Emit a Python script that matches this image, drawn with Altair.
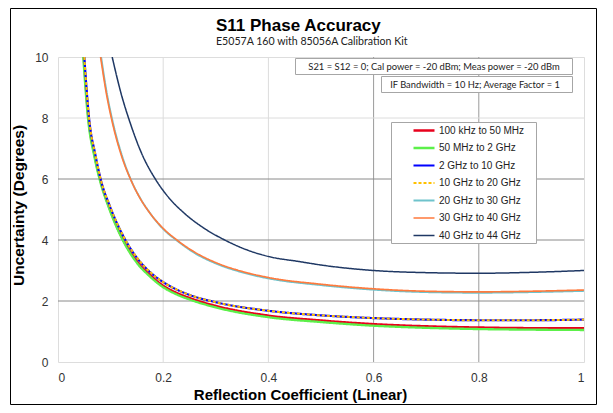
import altair as alt
import pandas as pd

# ---------------- data ----------------
title_text = "S11 Phase Accuracy"
subtitle_text = "E5057A 160 with 85056A Calibration Kit"
note1 = "S21 = S12 = 0; Cal power = -20 dBm; Meas power = -20 dBm"
note2 = "IF Bandwidth = 10 Hz; Average Factor = 1"
x_title = "Reflection Coefficient (Linear)"
y_title = "Uncertainty (Degrees)"

series = ["100 kHz to 50 MHz", "50 MHz to 2 GHz", "2 GHz to 10 GHz", "10 GHz to 20 GHz",
          "20 GHz to 30 GHz", "30 GHz to 40 GHz", "40 GHz to 44 GHz"]
colors = ["#e8001c", "#5cf04a", "#0000ff", "#ffc000", "#6fc3cc", "#ff7a3d", "#1f3864"]
widths = [2.5, 1.5, 2.5, 1.2, 2.2, 1.5, 1.5]
dashes = [[1, 0], [1, 0], [1, 0], [3, 2], [1, 0], [1, 0], [1, 0]]

red_x = [0.049, 0.058, 0.07, 0.08, 0.099, 0.124, 0.15, 0.175, 0.2, 0.225, 0.25, 0.3, 0.4, 0.5, 0.6, 0.7, 0.8, 0.9, 1.0]
red_y = [10, 8, 6.75, 6, 5.0, 4.0, 3.3, 2.85, 2.5, 2.27, 2.1, 1.84, 1.52, 1.36, 1.24, 1.17, 1.13, 1.11, 1.11]

green_x = [0.048, 0.057, 0.069, 0.079, 0.098, 0.123, 0.15, 0.175, 0.2, 0.225, 0.25, 0.3, 0.4, 0.5, 0.6, 0.7, 0.8, 0.9, 1.0]
green_y = [10, 8, 6.75, 6, 5.0, 4.0, 3.25, 2.8, 2.45, 2.22, 2.05, 1.79, 1.47, 1.31, 1.19, 1.12, 1.08, 1.06, 1.05]

blue_x = [0.050, 0.059, 0.071, 0.081, 0.1, 0.125, 0.15, 0.175, 0.2, 0.225, 0.25, 0.3, 0.4, 0.5, 0.6, 0.7, 0.8, 0.9, 1.0]
blue_y = [10, 8, 6.8, 6, 5.05, 4.1, 3.42, 2.95, 2.62, 2.38, 2.2, 1.96, 1.68, 1.53, 1.44, 1.39, 1.37, 1.37, 1.39]

yellow_x = [0.050, 0.059, 0.071, 0.081, 0.1, 0.125, 0.15, 0.175, 0.2, 0.225, 0.25, 0.3, 0.4, 0.5, 0.6, 0.7, 0.8, 0.9, 1.0]
yellow_y = [10, 8, 6.8, 6, 5.05, 4.1, 3.42, 2.95, 2.62, 2.38, 2.2, 1.96, 1.68, 1.53, 1.44, 1.39, 1.37, 1.37, 1.39]

lblue_x = [0.082, 0.093, 0.104, 0.121, 0.14, 0.156, 0.175, 0.2, 0.227, 0.26, 0.3, 0.35, 0.4, 0.5, 0.6, 0.7, 0.8, 0.9, 1.0]
lblue_y = [10, 8.8, 7.88, 6.8, 5.92, 5.38, 4.88, 4.36, 3.97, 3.57, 3.23, 2.94, 2.74, 2.52, 2.37, 2.29, 2.27, 2.29, 2.33]

orange_x = [0.081, 0.092, 0.103, 0.12, 0.139, 0.155, 0.174, 0.2, 0.226, 0.26, 0.3, 0.35, 0.4, 0.5, 0.6, 0.7, 0.8, 0.9, 1.0]
orange_y = [10, 8.8, 7.88, 6.8, 5.95, 5.4, 4.9, 4.38, 4.0, 3.6, 3.26, 2.97, 2.77, 2.55, 2.4, 2.32, 2.30, 2.32, 2.36]

navy_x = [0.103, 0.12, 0.137, 0.16, 0.185, 0.21, 0.24, 0.28, 0.317, 0.36, 0.4, 0.46, 0.5, 0.6, 0.7, 0.8, 0.9, 1.0]
navy_y = [10, 8.8, 7.85, 6.8, 6.0, 5.4, 4.88, 4.36, 4.0, 3.67, 3.46, 3.29, 3.18, 3.0, 2.93, 2.91, 2.94, 3.0]

x_ticks = [0, 0.2, 0.4, 0.6, 0.8, 1.0]
y_ticks = [0, 2, 4, 6, 8, 10]
vgrid_vals = [0.2, 0.4, 0.6, 0.8]
vgrid_cols = ["#dcdcdc", "#dcdcdc", "#9a9a9a", "#9a9a9a"]
hgrid_vals = [2, 4, 6, 8]
hgrid_cols = ["#8a8a8a", "#8a8a8a", "#8a8a8a", "#dcdcdc"]

# ---------------- tables ----------------
all_x = [red_x, green_x, blue_x, yellow_x, lblue_x, orange_x, navy_x]
all_y = [red_y, green_y, blue_y, yellow_y, lblue_y, orange_y, navy_y]
rows = []
for k, (name, xs, ys) in enumerate(zip(series, all_x, all_y)):
    for i, (xv, yv) in enumerate(zip(xs, ys)):
        rows.append({"series": name, "x": xv, "y": yv, "k": k, "i": i})
df = pd.DataFrame(rows)

FONT = "Liberation Sans, Arial, sans-serif"
HUMAN = "Lato, Liberation Sans, sans-serif"

xscale = alt.Scale(domain=[0, 1], nice=False, zero=False)
yscale = alt.Scale(domain=[0, 10], nice=False, zero=False)

xaxis = alt.Axis(values=x_ticks, format="~g", title=x_title, grid=False, ticks=False,
                 domain=False, labelFont=FONT, labelFontSize=12, labelColor="#333",
                 labelPadding=10, titleFont=FONT, titleFontSize=15, titleFontWeight="bold",
                 titleColor="#000", titleX=242, titlePadding=4)
yaxis = alt.Axis(values=y_ticks, format="d", title=y_title, grid=False, ticks=False,
                 domain=False, labelFont=FONT, labelFontSize=12, labelColor="#333",
                 labelPadding=10, titleFont=FONT, titleFontSize=15.5, titleFontWeight="bold",
                 titleColor="#000", titleX=-32, titleY=148)

vgrid = alt.Chart(pd.DataFrame({"x": vgrid_vals, "c": vgrid_cols})).mark_rule(strokeWidth=1).encode(
    x=alt.X("x:Q", scale=xscale, axis=xaxis), color=alt.Color("c:N", scale=None))
hgrid = alt.Chart(pd.DataFrame({"y": hgrid_vals, "c": hgrid_cols})).mark_rule(strokeWidth=1).encode(
    y=alt.Y("y:Q", scale=yscale, axis=yaxis), color=alt.Color("c:N", scale=None))

leg = alt.Legend(orient="none", legendX=354, legendY=68, title=None, symbolType="stroke",
                 symbolSize=441, labelFont=FONT, labelFontSize=10, labelColor="#222",
                 clipHeight=11, rowPadding=6.5, padding=0, labelOffset=3)

lines = alt.Chart(df).mark_line(interpolate="monotone", clip=True).encode(
    x=alt.X("x:Q", scale=xscale, axis=xaxis),
    y=alt.Y("y:Q", scale=yscale, axis=yaxis),
    color=alt.Color("series:N", scale=alt.Scale(domain=series, range=colors), legend=leg),
    strokeDash=alt.StrokeDash("series:N", scale=alt.Scale(domain=series, range=dashes), legend=leg),
    strokeWidth=alt.StrokeWidth("series:N", scale=alt.Scale(domain=series, range=widths), legend=leg),
    order=alt.Order("i:Q"),
)

one = pd.DataFrame({"a": [0]})
frame = alt.Chart(one).mark_rect(filled=False, stroke="#000", strokeWidth=1).encode(
    x=alt.value(-47.5), x2=alt.value(538.5), y=alt.value(-48.5), y2=alt.value(347.5))

legend_box = alt.Chart(one).mark_rect(fill="white", stroke="#a6a6a6", strokeWidth=1).encode(
    x=alt.value(333.5), x2=alt.value(478.5), y=alt.value(65.5), y2=alt.value(186.5))

box1 = alt.Chart(one).mark_rect(fill="white", stroke="#a6a6a6", strokeWidth=1).encode(
    x=alt.value(237.5), x2=alt.value(514.5), y=alt.value(1.5), y2=alt.value(17.5))
box2 = alt.Chart(one).mark_rect(fill="white", stroke="#a6a6a6", strokeWidth=1).encode(
    x=alt.value(323.5), x2=alt.value(514.5), y=alt.value(19.5), y2=alt.value(35.5))

txt1 = alt.Chart(pd.DataFrame({"t": [note1]})).mark_text(
    font=HUMAN, fontSize=9.4, color="#222", align="center", baseline="middle").encode(
    text="t:N", x=alt.value(376), y=alt.value(9.5))
txt2 = alt.Chart(pd.DataFrame({"t": [note2]})).mark_text(
    font=HUMAN, fontSize=9.3, color="#222", align="center", baseline="middle").encode(
    text="t:N", x=alt.value(417), y=alt.value(27.5))

ttl = alt.Chart(pd.DataFrame({"t": [title_text]})).mark_text(
    font=FONT, fontSize=17, fontWeight="bold", color="#000", align="left", baseline="alphabetic").encode(
    text="t:N", x=alt.value(158), y=alt.value(-26))
sub = alt.Chart(pd.DataFrame({"t": [subtitle_text]})).mark_text(
    font=HUMAN, fontSize=10.6, color="#222", align="left", baseline="alphabetic").encode(
    text="t:N", x=alt.value(158), y=alt.value(-12))

chart = alt.layer(vgrid, hgrid, lines, legend_box, box1, box2, txt1, txt2, ttl, sub, frame).properties(
    width=526, height=305,
    padding={"left": 50, "top": 49, "right": 14, "bottom": 43},
    autosize=alt.AutoSizeParams(type="none"),
).configure_view(stroke="#868686", strokeWidth=1).configure(background="white")

chart.save("out.html", embed_options={"renderer": "svg", "actions": False})
